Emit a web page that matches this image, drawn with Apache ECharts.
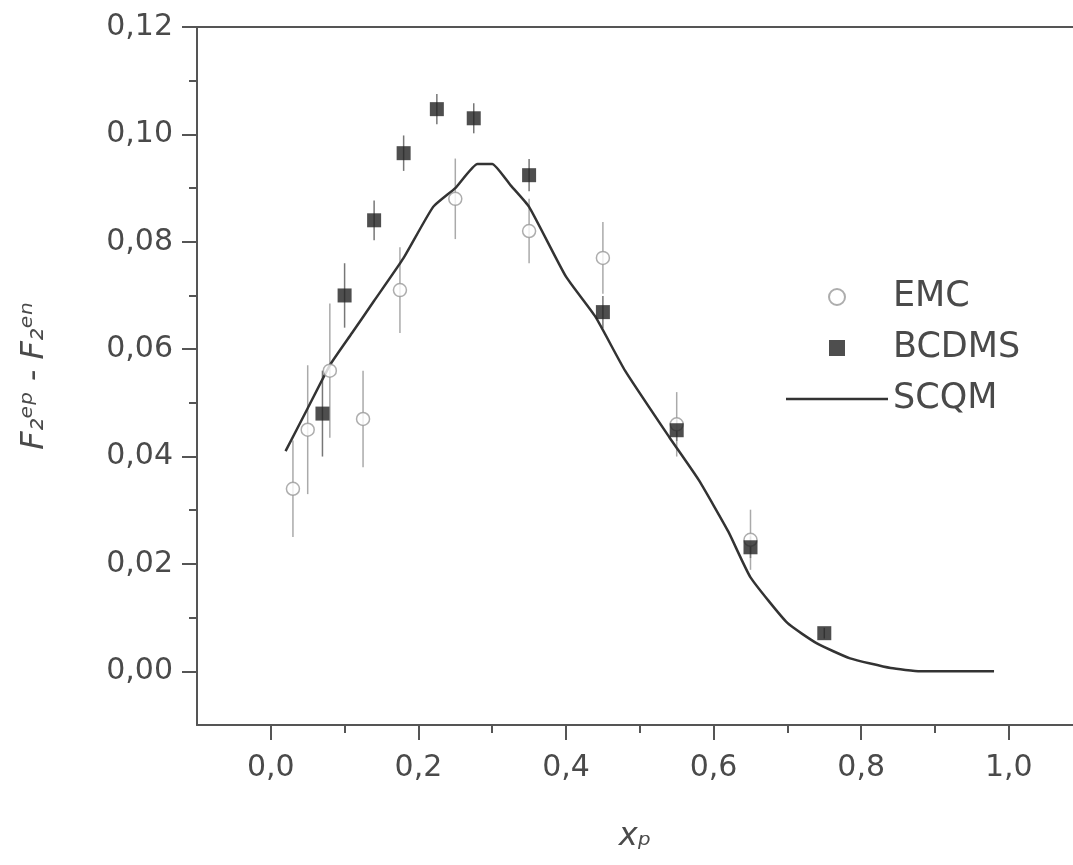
<!DOCTYPE html>
<html>
<head>
<meta charset="utf-8">
<script src="https://cdn.jsdelivr.net/npm/echarts@6/dist/echarts.min.js"></script>
<style>
html, body { margin: 0; padding: 0; background: #fff; }
#chart { width: 1073px; height: 865px; }
</style>
</head>
<body>
<div id="chart"></div>
<script>
// EMC data (open circles) with error bars
const emcX = [0.03, 0.05, 0.08, 0.125, 0.175, 0.25, 0.35, 0.45, 0.55, 0.65];
const emcY = [0.034, 0.045, 0.056, 0.047, 0.071, 0.088, 0.082, 0.077, 0.046, 0.0245];
const emcErr = [0.009, 0.012, 0.0125, 0.009, 0.008, 0.0075, 0.006, 0.0067, 0.006, 0.0056];

// BCDMS data (filled squares)
const bcdmsX = [0.07, 0.10, 0.14, 0.18, 0.225, 0.275, 0.35, 0.45, 0.55, 0.65, 0.75];
const bcdmsY = [0.048, 0.070, 0.084, 0.0965, 0.1047, 0.103, 0.0924, 0.0669, 0.0449, 0.0231, 0.0071];
const bcdmsErr = [0.008, 0.006, 0.0037, 0.0033, 0.0028, 0.0028, 0.003, 0.003, 0.002, 0.002, 0.001];

// SCQM curve
const scqmX = [0.02, 0.05, 0.08, 0.11, 0.14, 0.18, 0.22, 0.25, 0.28, 0.30, 0.325, 0.35, 0.40, 0.44, 0.48, 0.54, 0.58, 0.62, 0.65, 0.70, 0.74, 0.785, 0.84, 0.88, 0.93, 0.98];
const scqmY = [0.041, 0.049, 0.057, 0.063, 0.069, 0.077, 0.0865, 0.090, 0.0945, 0.0945, 0.0905, 0.0865, 0.0735, 0.066, 0.056, 0.0436, 0.0356, 0.026, 0.0175, 0.009, 0.0052, 0.0024, 0.0006, 0.0, 0.0, 0.0];

// axis ticks
const xMajor = [0.0, 0.2, 0.4, 0.6, 0.8, 1.0];
const xMinor = [0.1, 0.3, 0.5, 0.7, 0.9];
const yMajor = [0.00, 0.02, 0.04, 0.06, 0.08, 0.10, 0.12];
const yMinor = [0.01, 0.03, 0.05, 0.07, 0.09, 0.11];

const pairs = (xs, ys) => xs.map((x, i) => [x, ys[i]]);
const bars = (xs, ys, es) => xs.map((x, i) => [x, ys[i] - es[i], ys[i] + es[i]]);

function errorBar(color) {
    return function(params, api) {
        const x = api.value(0);
        const lo = api.coord([x, api.value(1)]);
        const hi = api.coord([x, api.value(2)]);
        return {
            type: 'line',
            shape: { x1: lo[0], y1: lo[1], x2: hi[0], y2: hi[1] },
            style: { stroke: color, lineWidth: 1.5 }
        };
    };
}

const axisColor = '#555';
const textColor = '#4a4a4a';
const font = 'DejaVu Sans';
const axisLine = { onZero: false, lineStyle: { color: axisColor, width: 2 } };

const chart = echarts.init(document.getElementById('chart'));
const option = {
    animation: false,
    backgroundColor: '#fff',
    grid: { left: 197, top: 27, right: 0, bottom: 140 },
    legend: {
        orient: 'vertical',
        left: 781,
        top: 274,
        itemWidth: 102,
        itemHeight: 16,
        itemGap: 15,
        textStyle: { fontFamily: font, fontSize: 35, color: textColor, lineHeight: 36 },
        data: [
            { name: 'EMC', icon: 'circle' },
            { name: 'BCDMS', icon: 'path://M0,0H10V10H0Z' },
            { name: 'SCQM', icon: 'path://M0,0H100V2.5H0Z' }
        ]
    },
    xAxis: [{
        type: 'value', min: -0.1, max: 1.087, position: 'bottom',
        name: 'xₚ', nameLocation: 'middle', nameGap: 96,
        nameTextStyle: { fontFamily: font, fontSize: 32, fontStyle: 'italic', color: textColor },
        axisLine: axisLine,
        axisTick: { customValues: xMajor, length: 15, lineStyle: { color: axisColor, width: 2 } },
        axisLabel: {
            customValues: xMajor, margin: 28,
            fontFamily: font, fontSize: 30, color: textColor,
            formatter: v => v.toFixed(1).replace('.', ',')
        },
        splitLine: { show: false }
    }, {
        type: 'value', min: -0.1, max: 1.087, position: 'bottom',
        axisLine: { show: false, onZero: false },
        axisTick: { customValues: xMinor, length: 8, lineStyle: { color: axisColor, width: 2 } },
        axisLabel: { show: false },
        splitLine: { show: false }
    }, {
        type: 'value', min: -0.1, max: 1.087, position: 'top',
        axisLine: axisLine,
        axisTick: { show: false },
        axisLabel: { show: false },
        splitLine: { show: false }
    }],
    yAxis: [{
        type: 'value', min: -0.01, max: 0.12, position: 'left',
        name: 'F₂ᵉᵖ - F₂ᵉⁿ', nameLocation: 'middle', nameGap: 146,
        nameTextStyle: { fontFamily: font, fontSize: 32, fontStyle: 'italic', color: textColor },
        axisLine: axisLine,
        axisTick: { customValues: yMajor, length: 15, lineStyle: { color: axisColor, width: 2 } },
        axisLabel: {
            customValues: yMajor, margin: 24,
            fontFamily: font, fontSize: 30, color: textColor,
            formatter: v => v.toFixed(2).replace('.', ',')
        },
        splitLine: { show: false }
    }, {
        type: 'value', min: -0.01, max: 0.12, position: 'left',
        axisLine: { show: false, onZero: false },
        axisTick: { customValues: yMinor, length: 8, lineStyle: { color: axisColor, width: 2 } },
        axisLabel: { show: false },
        splitLine: { show: false }
    }],
    series: [{
        name: 'EMC err',
        type: 'custom',
        renderItem: errorBar('#aaa'),
        encode: { x: 0, y: [1, 2] },
        data: bars(emcX, emcY, emcErr),
        z: 1
    }, {
        name: 'BCDMS err',
        type: 'custom',
        renderItem: errorBar('#777'),
        encode: { x: 0, y: [1, 2] },
        data: bars(bcdmsX, bcdmsY, bcdmsErr),
        z: 1
    }, {
        name: 'SCQM',
        type: 'line',
        data: pairs(scqmX, scqmY),
        showSymbol: false,
        symbol: 'none',
        smooth: 0.15,
        lineStyle: { color: '#333', width: 2.5 },
        itemStyle: { color: '#333' },
        z: 2
    }, {
        name: 'EMC',
        type: 'scatter',
        data: pairs(emcX, emcY),
        symbol: 'circle',
        symbolSize: 13,
        itemStyle: { color: '#fff', borderColor: '#999', borderWidth: 1.5 },
        z: 3
    }, {
        name: 'BCDMS',
        type: 'scatter',
        data: pairs(bcdmsX, bcdmsY),
        symbol: 'rect',
        symbolSize: 14,
        itemStyle: { color: '#222' },
        z: 4
    }]
};
chart.setOption(option);
</script>
</body>
</html>
